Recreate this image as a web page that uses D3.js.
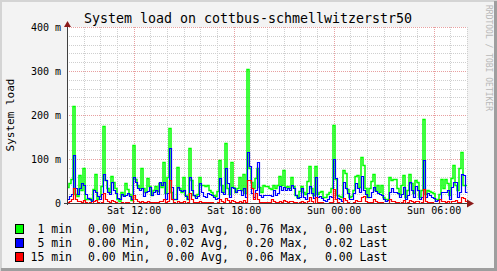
<!DOCTYPE html>
<html>
<head>
<meta charset="utf-8">
<script src="https://cdn.jsdelivr.net/npm/d3@7"></script>
<style>
  body { margin: 0; background: #f3f3f3; }
  text { font-family: "DejaVu Sans Mono", monospace; fill: #000; }
</style>
</head>
<body>
<script>
// load average in milli units, one value per 7.2 minute step, Sat 08:00 -> Sun 08:00
const load1 = [
  36,45,54,220,20,15,64,30,79,10, 8,12,6,31,66,10,15,39,175,52,
  33,25,61,48,33,10,5,24,18,45, 31,20,6,132,54,40,33,79,33,25,
  56,39,18,30,39,27,45,37,94,22,
  58,170,26,10,8,81,33,25,58,18, 10,124,52,18,16,20,60,41,41,38,
  40,30,25,18,15,28,98,41,26,136, 35,20,94,37,24,33,60,30,66,22,
  305,79,48,33,56,79,37,25,41,39, 39,
  33,31,41,33,40,61,41,75,37,39, 33,58,39,18,14,28,39,26,20,51,
  84,35,18,84,20,26,28,14,14,20, 26,35,177,54,18,16,14,76,69,31,
  14,16,30,61,64,37,104,86,33,14,
  33,50,67,30,41,26,41,14,8,10, 58,52,54,54,33,20,40,64,14,30,
  66,45,22,52,48,14,30,192,20,30, 28,26,22,8,8,20,54,33,54,45,
  18,56,86,41,30,80,117,40,41
];
const load5 = [
  10,15,20,109,35,20,33,45,41,20, 12,8,5,30,25,15,10,20,67,52,
  25,20,48,30,22,12,8,20,15,18, 22,15,8,60,48,35,30,33,15,25,
  28,37,18,25,30,20,48,41,48,8,
  22,124,36,10,8,36,30,28,30,15, 10,58,30,18,12,15,45,25,15,14,
  22,20,18,14,10,12,56,26,20,79, 45,14,36,33,24,30,30,18,33,14,
  117,83,22,14,30,94,18,14,18,18, 18,
  18,15,30,18,22,39,30,37,30,35, 30,41,35,18,12,14,33,14,10,23,
  39,22,12,58,14,16,12,6,5,10, 16,14,99,56,12,8,5,48,35,22,
  10,8,22,45,35,26,61,30,20,14,
  14,25,36,28,22,20,18,10,5,6, 26,33,24,26,22,14,20,36,10,18,
  48,30,14,39,30,10,14,98,14,22, 18,14,12,5,6,10,26,26,26,30,
  10,36,48,48,14,24,66,64,26
];
const load15 = [
  2,4,8,33,10,5,4,3,6,2, 1,2,1,4,6,2,1,3,22,10,
  4,3,6,4,2,1,0,2,1,3, 2,1,0,18,8,4,3,5,2,2,
  4,3,2,2,3,2,5,4,8,2,
  4,52,10,2,1,4,3,2,4,1, 2,22,8,3,2,2,5,3,2,2,
  3,2,2,1,1,2,8,4,2,12, 6,2,6,4,3,3,5,2,6,2,
  52,52,33,8,22,10,3,2,2,2, 3,
  3,8,4,2,3,5,3,6,4,3, 4,5,3,2,1,2,4,2,1,4,
  14,4,1,14,3,2,2,1,0,1, 2,3,31,10,3,1,1,12,6,3,
  1,1,3,6,5,4,14,16,4,2,
  2,3,8,4,2,2,3,1,0,0, 8,5,4,3,2,1,3,6,1,2,
  6,4,2,5,4,1,2,31,4,3, 3,2,1,0,0,8,5,4,3,4,
  1,4,5,6,2,3,14,12,4
];

const yTicks = [0, 100, 200, 300, 400];
const yTickLabels = ["0", "100 m", "200 m", "300 m", "400 m"];
const xTickLabels = ["Sat 12:00", "Sat 18:00", "Sun 00:00", "Sun 06:00"];

const legendNames = ["1 min", "5 min", "15 min"];
const legendColors = ["#00ff00", "#0000ff", "#ff0000"];
const legendMin = ["0.00", "0.00", "0.00"];
const legendAvg = ["0.03", "0.02", "0.00"];
const legendMax = ["0.76", "0.20", "0.06"];
const legendLast = ["0.00", "0.02", "0.00"];

const width = 497, height = 271;
const start = new Date(Date.UTC(2023, 2, 4, 8, 0));
const end = new Date(Date.UTC(2023, 2, 5, 8, 0));
const step = 7.2 * 60 * 1000;

const svg = d3.select("body").append("svg")
  .attr("width", width).attr("height", height);

// frame
svg.append("rect").attr("width", width).attr("height", height).attr("fill", "#f3f3f3");
svg.append("path").attr("d", `M1,${height} V1 H${width}`).attr("stroke", "#d4d4d4").attr("stroke-width", 2).attr("fill", "none");
svg.append("path").attr("d", `M${width - 1.5},1 V${height - 1.5} H1`).attr("stroke", "#9e9e9e").attr("stroke-width", 3).attr("fill", "none");

const x = d3.scaleUtc().domain([start, end]).range([67, 467]);
const y = d3.scaleLinear().domain([0, 400]).range([203, 27]);

svg.append("rect").attr("x", 67).attr("y", 27).attr("width", 400).attr("height", 176).attr("fill", "#fff");

// grid
const minorY = d3.range(20, 400, 20).filter(v => v % 100 !== 0);
svg.append("g").selectAll("line").data(minorY).join("line")
  .attr("x1", 67).attr("x2", 467)
  .attr("y1", d => Math.round(y(d)) + 0.5).attr("y2", d => Math.round(y(d)) + 0.5)
  .attr("stroke", "#cfcfcf").attr("stroke-dasharray", "1,1");

const hours = d3.utcHour.range(d3.utcHour.offset(start, 1), d3.utcHour.offset(end, 1));
const majorX = hours.filter(d => d.getUTCHours() % 6 === 0);
const minorX = hours.filter(d => d.getUTCHours() % 6 !== 0);
svg.append("g").selectAll("line").data(minorX).join("line")
  .attr("x1", d => Math.round(x(d)) + 0.5).attr("x2", d => Math.round(x(d)) + 0.5)
  .attr("y1", 27).attr("y2", 203)
  .attr("stroke", "#cfcfcf").attr("stroke-dasharray", "1,1");

svg.append("g").selectAll("line").data(yTicks.slice(1)).join("line")
  .attr("x1", 67).attr("x2", 467)
  .attr("y1", d => Math.round(y(d)) + 0.5).attr("y2", d => Math.round(y(d)) + 0.5)
  .attr("stroke", "#e8a0a0").attr("stroke-dasharray", "1,1");
svg.append("g").selectAll("line").data(majorX).join("line")
  .attr("x1", d => Math.round(x(d)) + 0.5).attr("x2", d => Math.round(x(d)) + 0.5)
  .attr("y1", 27).attr("y2", 205)
  .attr("stroke", "#e8a0a0").attr("stroke-dasharray", "1,1");

// data
const toPts = arr => {
  const pts = arr.map((v, i) => ({ t: new Date(start.getTime() + i * step), v }));
  pts.push({ t: end, v: arr[arr.length - 1] });
  return pts;
};

const lineFor = dx => d3.line().curve(d3.curveStepAfter)
  .x(d => Math.round(x(d.t)) + dx).y(d => Math.round(y(d.v)) + 0.5);

// 1 min: bolder so single-step spikes look solid; 5/15 min: thin crisp lines
const seriesStyle = [{ dx: 0, w: 1.5 }, { dx: 0.5, w: 1.2 }, { dx: 0.5, w: 1.2 }];
[load1, load5, load15].forEach((s, k) => {
  svg.append("path").datum(toPts(s)).attr("d", lineFor(seriesStyle[k].dx))
    .attr("fill", "none").attr("stroke", legendColors[k]).attr("stroke-width", seriesStyle[k].w)
    .attr("stroke-linejoin", "miter");
});

// axes lines + arrows
svg.append("line").attr("x1", 67.5).attr("x2", 67.5).attr("y1", 205).attr("y2", 24)
  .attr("stroke", "#404040");
svg.append("line").attr("x1", 64).attr("x2", 469).attr("y1", 203.5).attr("y2", 203.5)
  .attr("stroke", "#404040");
svg.append("path").attr("d", "M64,27 L67.5,21 L71,27 Z").attr("fill", "#8b1a1a");
svg.append("path").attr("d", "M467,199.5 L474,203.5 L467,207.5 Z").attr("fill", "#8b1a1a");

// tick labels
const yAxis = d3.axisLeft(y).tickValues(yTicks).tickSize(0).tickPadding(0)
  .tickFormat((d, i) => yTickLabels[i]);
svg.append("g").attr("transform", "translate(61,0)").call(yAxis)
  .call(g => g.select(".domain").remove())
  .selectAll("text").style("font-family", "DejaVu Sans Mono").style("font-size", "10px").attr("fill", "#000");

const xAxis = d3.axisBottom(x).tickValues(majorX.slice(0, 4)).tickSize(0).tickPadding(0)
  .tickFormat((d, i) => xTickLabels[i]);
svg.append("g").attr("transform", "translate(0,207)").call(xAxis)
  .call(g => g.select(".domain").remove())
  .selectAll("text").style("font-family", "DejaVu Sans Mono").style("font-size", "10px").attr("fill", "#000");

// titles
svg.append("text").attr("x", 248).attr("y", 23).attr("text-anchor", "middle")
  .style("font-size", "13.3px").text("System load on cottbus-schmellwitzerstr50");
svg.append("text").attr("transform", "translate(14,115) rotate(-90)").attr("text-anchor", "middle")
  .style("font-size", "11px").text("System load");
svg.append("text").attr("transform", "translate(486,5) rotate(90)")
  .style("font-size", "8px").style("fill", "#b8b8b8").text("RRDTOOL / TOBI OETIKER");

// legend
const leg = svg.append("g").selectAll("g").data(legendNames).join("g")
  .attr("transform", (d, i) => `translate(0,${224 + i * 14})`);
leg.append("rect").attr("x", 15.5).attr("y", 0.5).attr("width", 8).attr("height", 9)
  .attr("fill", (d, i) => legendColors[i]).attr("stroke", "#000");
const lt = (xp, f, anchor) => leg.append("text").attr("x", xp).attr("y", 9)
  .attr("text-anchor", anchor || "start").style("font-size", "11.5px").text(f);
lt(72, d => d, "end");
lt(88, (d, i) => legendMin[i] + " Min,");
lt(166.5, (d, i) => legendAvg[i] + " Avg,");
lt(246, (d, i) => legendMax[i] + " Max,");
lt(325, (d, i) => legendLast[i] + " Last");
</script>
</body>
</html>
